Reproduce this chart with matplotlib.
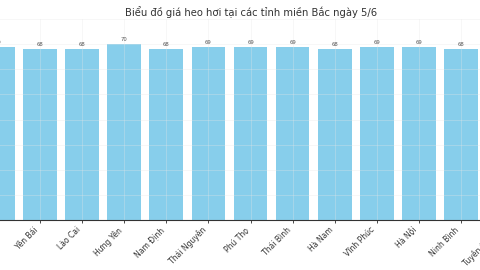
import matplotlib.pyplot as plt
import numpy as np

# Giá heo hơi (nghìn đồng/kg) - ảnh gốc bị cắt hai bên
provinces = ['Bắc Giang', 'Yên Bái', 'Lào Cai', 'Hưng Yên', 'Nam Định', 'Thái Nguyên',
             'Phú Thọ', 'Thái Bình', 'Hà Nam', 'Vĩnh Phúc', 'Hà Nội', 'Ninh Bình',
             'Tuyên Quang']
prices = [69, 68, 68, 70, 68, 69, 69, 69, 68, 69, 69, 68, 69]

fig = plt.figure(figsize=(4.8, 2.7), dpi=100)
# axes wider than the figure so the edges are cut like the reference
ax = fig.add_axes([-0.1, 50 / 270, 1.2, 201 / 270])

x = np.arange(len(provinces))
bars = ax.bar(x, prices, width=0.8, color='skyblue')
for b, v in zip(bars, prices):
    ax.text(b.get_x() + b.get_width() / 2, v + 0.8, str(v),
            ha='center', va='bottom', fontsize=3.8, color='#555555')

ax.set_xticks(x)
ax.set_xticklabels(provinces, rotation=45, ha='right', fontsize=5.5, color='#333333')
ax.tick_params(axis='x', length=2, width=0.5, pad=2)
ax.set_yticks(np.arange(0, 81, 10))
ax.set_yticklabels([])
ax.tick_params(axis='y', length=0)
ax.set_xlim(-1.09, 12.59)
ax.set_ylim(0, 80)
ax.grid(True, color='#e6e6e6', linewidth=0.5, alpha=0.45)
for s in ['top', 'right', 'left']:
    ax.spines[s].set_visible(False)
ax.spines['bottom'].set_linewidth(0.8)
ax.spines['bottom'].set_color('#333333')

fig.text(251 / 480, 1 - 12 / 270, 'Biểu đồ giá heo hơi tại các tỉnh miền Bắc ngày 5/6',
         ha='center', va='center', fontsize=7.2, color='#333333')

fig.savefig('out.png', dpi=100)
